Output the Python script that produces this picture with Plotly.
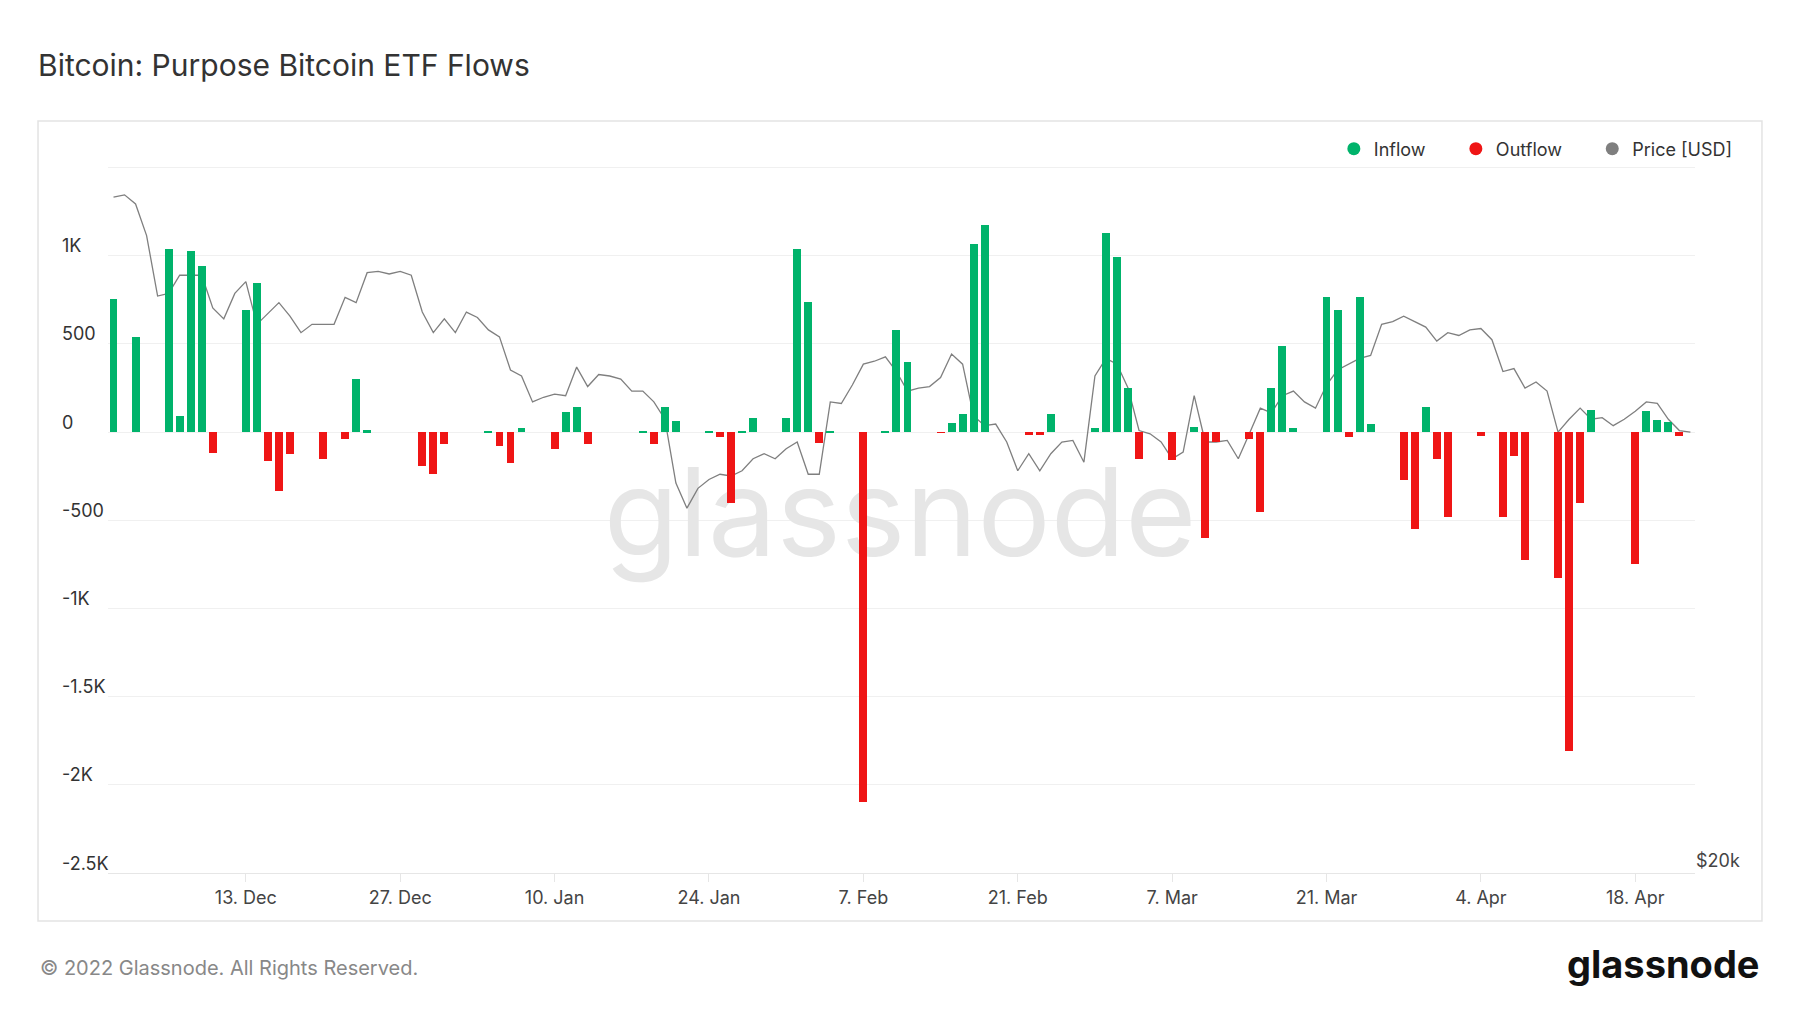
import plotly.graph_objects as go
import pandas as pd

price_start = "2021-12-01"
price_usd = [
    57000, 57200, 56400, 53700, 48900, 49100, 50500, 50500, 50500, 48000, 47200, 49100, 50000, 46800, 47600, 48400,
    47400, 46200, 46800, 46800, 46800, 48800, 48400, 50700, 50800, 50600, 50800, 50500, 47700, 46200, 47200,
    46200, 47700, 47300, 46400, 45900, 43600, 43200, 41500, 41800, 42000, 41900, 43800, 42500, 43300, 43200, 43000,
    42200, 42200, 41500, 40400, 36600, 35200, 36300, 36800, 37100, 37000, 37300, 38000, 38300, 38000, 38600,
    39000, 37100, 37100, 41500, 41400, 42600, 44000, 44200, 44500, 43500, 42200, 42400, 42500, 43100, 44700, 44000,
    40600, 40000, 40100, 39000, 37300, 38300, 37300, 38300, 39000, 39100, 37800, 43200,
    44400, 44000, 42400, 39700, 39500, 39000, 38000, 38400, 41900, 39000, 39000, 39100, 38000, 39500, 41100, 40800,
    41900, 42200, 41500, 41100, 42600, 43600, 44000, 44400, 44600, 46800, 47000, 47400, 47000, 46600, 45600,
    46200, 46000, 46400, 46500, 45700, 43500, 43700, 42400, 42800, 42200, 39600, 40400, 41100, 40400, 40500, 40000,
    40400, 40900, 41500, 41400, 40400, 39700, 39600,
]

flow_dates = [
    "2021-12-01", "2021-12-03", "2021-12-06", "2021-12-07", "2021-12-08", "2021-12-09", "2021-12-10",
    "2021-12-13", "2021-12-14", "2021-12-15", "2021-12-16", "2021-12-17", "2021-12-20", "2021-12-22",
    "2021-12-23", "2021-12-24", "2021-12-29", "2021-12-30", "2021-12-31",
    "2022-01-04", "2022-01-05", "2022-01-06", "2022-01-07", "2022-01-10", "2022-01-11", "2022-01-12",
    "2022-01-13", "2022-01-18", "2022-01-19", "2022-01-20", "2022-01-21", "2022-01-24", "2022-01-25",
    "2022-01-26", "2022-01-27", "2022-01-28", "2022-01-31",
    "2022-02-01", "2022-02-02", "2022-02-03", "2022-02-04", "2022-02-07", "2022-02-09", "2022-02-10",
    "2022-02-11", "2022-02-14", "2022-02-15", "2022-02-16", "2022-02-17", "2022-02-18", "2022-02-22",
    "2022-02-23", "2022-02-24", "2022-02-28",
    "2022-03-01", "2022-03-02", "2022-03-03", "2022-03-04", "2022-03-07", "2022-03-09", "2022-03-10",
    "2022-03-11", "2022-03-14", "2022-03-15", "2022-03-16", "2022-03-17", "2022-03-18", "2022-03-21",
    "2022-03-22", "2022-03-23", "2022-03-24", "2022-03-25", "2022-03-28", "2022-03-29", "2022-03-30",
    "2022-03-31", "2022-04-01", "2022-04-04", "2022-04-06", "2022-04-07", "2022-04-08", "2022-04-11",
    "2022-04-12", "2022-04-13", "2022-04-14", "2022-04-18", "2022-04-19", "2022-04-20", "2022-04-21",
    "2022-04-22",
]
flow_values = [
    756, 540, 1040, 90, 1025, 940, -120,
    690, 845, -165, -335, -125, -150, -40,
    300, 10, -190, -240, -70,
    5, -80, -175, 25, -95, 115, 145,
    -70, 5, -65, 145, 65, 5, -30,
    -400, 5, 80, 80,
    1040, 740, -60, 5, -2100, 5, 580,
    400, -5, 50, 100, 1065, 1175, -15,
    -15, 100, 25,
    1130, 995, 250, -150, -160, 30, -600,
    -55, -40, -455, 250, 490, 25, 765,
    690, -30, 765, 45, -270, -550, 140,
    -155, -480, -20, -480, -135, -725, -830,
    -1810, -400, 125, -750, 120, 70, 55,
    -20,
]

y_tick_vals = [1000, 500, 0, -500, -1000, -1500, -2000, -2500]
y_tick_text = ["1K", "500", "0", "-500", "-1K", "-1.5K", "-2K", "-2.5K"]
x_tick_dates = ["2021-12-13", "2021-12-27", "2022-01-10", "2022-01-24", "2022-02-07", "2022-02-21",
                "2022-03-07", "2022-03-21", "2022-04-04", "2022-04-18"]

GREEN = "#00b36b"
RED = "#ef1515"
GRAY = "#7f7f7f"
SP = "\u00a0" * 5

price_dates = pd.date_range(price_start, periods=len(price_usd), freq="D")
fd = pd.to_datetime(flow_dates)
in_x = [d for d, v in zip(fd, flow_values) if v >= 0]
in_y = [v for v in flow_values if v >= 0]
out_x = [d for d, v in zip(fd, flow_values) if v < 0]
out_y = [v for v in flow_values if v < 0]

bw = 0.72 * 86400000
fig = go.Figure()
# watermark on the base subplot, underneath the data subplots
fig.add_trace(go.Scatter(x=[pd.Timestamp("2022-02-10 08:00")], y=[0.49], yaxis="y", mode="text", text=["glassnode"],
                         textfont=dict(family="Inter", size=122, color="#e6e6e6"),
                         showlegend=False, hoverinfo="skip"))
fig.add_trace(go.Bar(x=in_x, y=in_y, yaxis="y3", marker=dict(color=GREEN, line=dict(width=0)), width=bw,
                     showlegend=False, name="Inflow"))
fig.add_trace(go.Bar(x=out_x, y=out_y, yaxis="y3", marker=dict(color=RED, line=dict(width=0)), width=bw,
                     showlegend=False, name="Outflow"))
fig.add_trace(go.Scatter(x=price_dates, y=price_usd, yaxis="y2", mode="lines",
                         line=dict(color=GRAY, width=1.3), showlegend=False, name="Price [USD]"))
for nm, c in [("Inflow" + SP, GREEN), ("Outflow" + SP, RED), ("Price [USD]", GRAY)]:
    fig.add_trace(go.Scatter(x=[None], y=[None], yaxis="y3", mode="markers", name=nm,
                             marker=dict(color=c, size=13, symbol="circle")))

ann = []
for v, t in zip(y_tick_vals, y_tick_text):
    ann.append(dict(xref="paper", yref="y3", x=-0.030, y=v, text=t, showarrow=False, xanchor="left",
                    yanchor="middle", yshift=10, font=dict(family="Inter", size=18, color="#333")))
ann.append(dict(xref="paper", yref="paper", x=-0.0441, y=-0.134, text="© 2022 Glassnode. All Rights Reserved.",
                showarrow=False, xanchor="left", yanchor="middle", font=dict(family="Inter", size=20, color="#888")))
ann.append(dict(xref="paper", yref="paper", x=1.0422, y=-0.128, text="<b>glassnode</b>",
                showarrow=False, xanchor="right", yanchor="middle", font=dict(family="Inter", size=38, color="#111")))

fig.update_layout(
    width=1800, height=1013,
    margin=dict(l=100, r=113, t=156, b=148),
    paper_bgcolor="white", plot_bgcolor="white",
    barmode="overlay", bargap=0,
    title=dict(text="Bitcoin: Purpose Bitcoin ETF Flows", x=30 / 1800, y=1 - 57 / 1013, xanchor="left",
               yanchor="middle", font=dict(family="Inter", size=30, color="#333")),
    font=dict(family="Inter", color="#444"),
    legend=dict(orientation="h", x=1.027, xanchor="right", y=(873 - 149) / 709, yanchor="middle",
                font=dict(family="Inter", size=18, color="#333"), itemwidth=30, bgcolor="rgba(0,0,0,0)"),
    xaxis=dict(type="date", range=["2021-11-30 12:00", "2022-04-23 10:00"],
               tickvals=x_tick_dates, tickformat="%-d. %b", showgrid=False, ticks="outside", ticklen=8,
               tickcolor="#e6e6e6", showline=True, linecolor="#e6e6e6",
               tickfont=dict(family="Inter", size=18, color="#444")),
    yaxis=dict(range=[0, 1], visible=False, showgrid=False, zeroline=False),
    yaxis3=dict(range=[-2500, 1520], overlaying="y", tickvals=y_tick_vals + [1500], showticklabels=False,
                showgrid=True, gridcolor="#f0f0f0", zeroline=False),
    yaxis2=dict(type="log", overlaying="y", side="right", range=[4.30103, 4.77815], tickvals=[20000],
                ticktext=["$20k"], showgrid=False, zeroline=False, ticklabelshift=-12,
                tickfont=dict(family="Inter", size=18, color="#444")),
    shapes=[dict(type="rect", xref="paper", yref="paper", x0=-0.0441, x1=1.0422, y0=-0.0677, y1=1.0606,
                 line=dict(color="#e3e3e3", width=1.5), fillcolor="rgba(0,0,0,0)", layer="below")],
    annotations=ann,
)
fig.write_html("out.html")
